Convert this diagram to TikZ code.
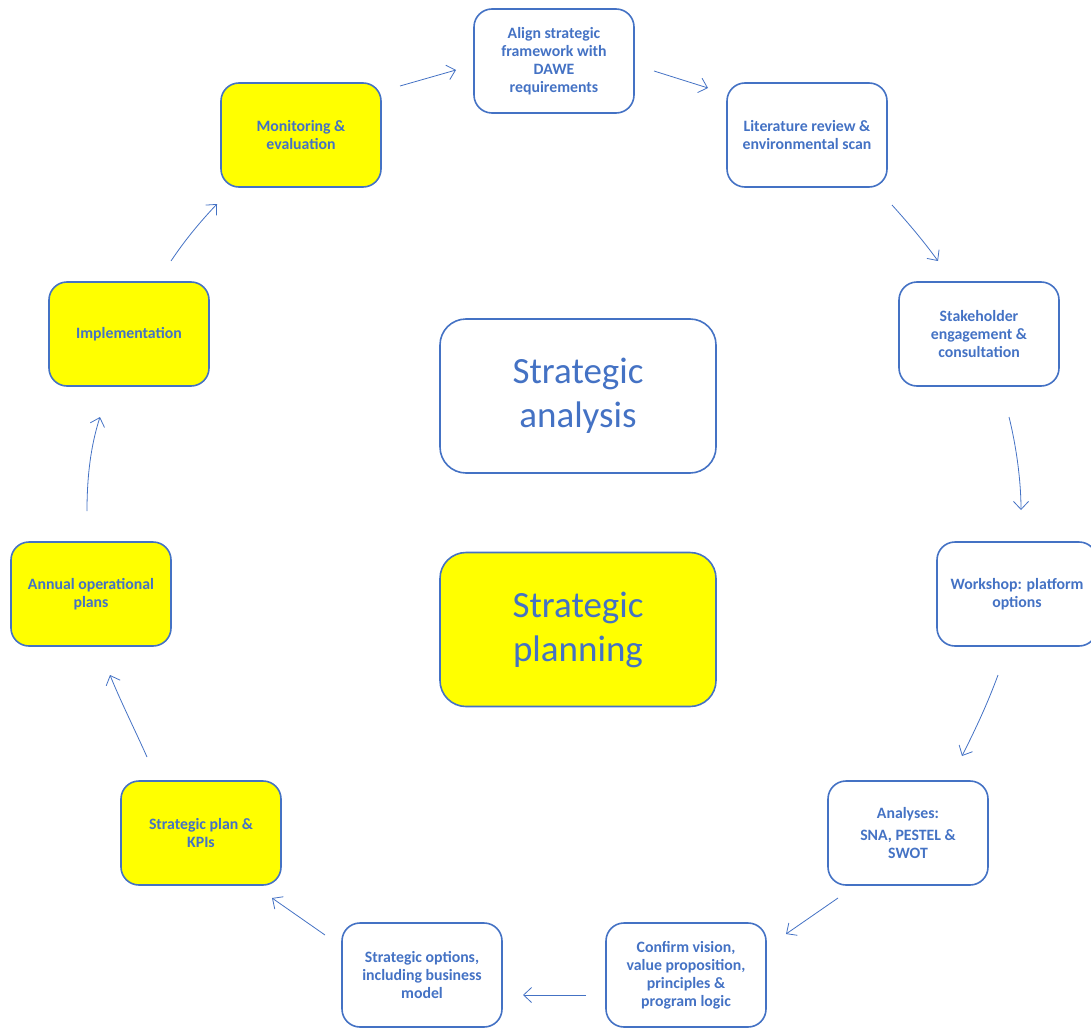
\documentclass[tikz,border=0pt]{standalone}
\usepackage{fontspec}
\setmainfont{Carlito}
\usetikzlibrary{arrows.meta}
\definecolor{accent}{HTML}{4472C4}
\definecolor{hilite}{HTML}{FFFF00}
\tikzset{
  stage/.style={draw=accent, line width=1.6pt, rounded corners=18pt,
    minimum width=160pt, minimum height=104pt, align=center,
    text=accent, font=\bfseries\fontsize{15.8}{18}\selectfont, inner sep=1pt},
  hot/.style={fill=hilite},
  core/.style={draw=accent, line width=1.6pt, rounded corners=26pt,
    minimum width=276pt, minimum height=154pt, align=center,
    text=accent, font=\fontsize{37}{44}\selectfont},
  flow/.style={draw=accent, line width=0.8pt,
    -{Straight Barb[length=8pt,width=15pt,line width=0.8pt]}},
}
\begin{document}
\begin{tikzpicture}[x=1pt,y=-1pt]
\useasboundingbox (0,0) rectangle (1091,1027);

% central boxes
\node[core] (analysis) at (578,396) {Strategic\\analysis};
\node[core,hot] (planning) at (578,629.5) {Strategic\\planning};

% the cycle of stages
\node[stage] (align) at (554,61) {Align strategic\\framework with\\DAWE\\requirements};
\node[stage] (lit) at (807,135) {Literature review \&\\environmental scan};
\node[stage] (stake) at (979,334) {Stakeholder\\engagement \&\\consultation};
\node[stage] (work) at (1017,594) {Workshop: platform\\options};
\node[stage] (anal) at (908,833) {Analyses:\\[4pt]SNA, PESTEL \&\\SWOT};
\node[stage] (conf) at (686,975) {Confirm vision,\\value proposition,\\principles \&\\program logic};
\node[stage] (opts) at (422,975) {Strategic options,\\including business\\model};
\node[stage,hot] (plan) at (201,833) {Strategic plan \&\\KPIs};
\node[stage,hot] (annual) at (91,594) {Annual operational\\plans};
\node[stage,hot] (impl) at (129,334) {Implementation};
\node[stage,hot] (mon) at (301,135) {Monitoring \&\\evaluation};

% connector end points
\coordinate (m1) at (400,86);   \coordinate (m2) at (456,70);
\coordinate (a1) at (654,71);   \coordinate (a2) at (708,88);
\coordinate (l1) at (892,205);  \coordinate (l2) at (938,261);
\coordinate (s1) at (1009,417); \coordinate (s2) at (1021,510);
\coordinate (w1) at (998,675);  \coordinate (w2) at (962,756);
\coordinate (n1) at (838,898);  \coordinate (n2) at (786,934);
\coordinate (c1) at (586,995);  \coordinate (c2) at (523,995);
\coordinate (o1) at (325,935);  \coordinate (o2) at (272,898);
\coordinate (p1) at (147,757);  \coordinate (p2) at (110,675);
\coordinate (u1) at (87,511);   \coordinate (u2) at (100,417);
\coordinate (i1) at (171,261);  \coordinate (i2) at (217,204);

% connectors
\draw[flow] (m1) -- (m2);
\draw[flow] (a1) -- (a2);
\draw[flow] (l1) .. controls (910,225) and (925,243) .. (l2);
\draw[flow] (s1) .. controls (1016,445) and (1021,480) .. (s2);
\draw[flow] (w1) .. controls (987,705) and (975,730) .. (w2);
\draw[flow] (n1) -- (n2);
\draw[flow] (c1) -- (c2);
\draw[flow] (o1) -- (o2);
\draw[flow] (p1) .. controls (135,730) and (120,700) .. (p2);
\draw[flow] (u1) .. controls (87,475) and (91,445) .. (u2);
\draw[flow] (i1) .. controls (185,240) and (200,222) .. (i2);
\end{tikzpicture}
\end{document}
